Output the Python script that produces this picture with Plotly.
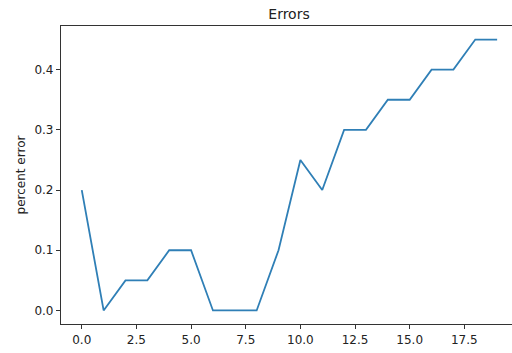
import plotly.graph_objects as go

# error rate per step
steps = list(range(20))
percent_error = [0.2, 0.0, 0.05, 0.05, 0.1, 0.1, 0.0, 0.0, 0.0, 0.1,
                 0.25, 0.2, 0.3, 0.3, 0.35, 0.35, 0.4, 0.4, 0.45, 0.45]
x_ticks = [0.0, 2.5, 5.0, 7.5, 10.0, 12.5, 15.0, 17.5]
y_ticks = [0.0, 0.1, 0.2, 0.3, 0.4]

FONT = "DejaVu Sans"

fig = go.Figure(
    go.Scatter(
        x=steps,
        y=percent_error,
        mode="lines",
        line=dict(color="#2f7fb6", width=1.8),
        hoverinfo="skip",
    )
)

fig.update_layout(
    width=512,
    height=353,
    margin=dict(l=61, r=0, t=26, b=29),
    paper_bgcolor="white",
    plot_bgcolor="white",
    showlegend=False,
    font=dict(family=FONT, size=12, color="#222222"),
    title=dict(
        text="Errors",
        x=(289 - 61) / 451,
        xref="paper",
        xanchor="center",
        y=1 - 14 / 353,
        yref="container",
        yanchor="middle",
        font=dict(family=FONT, size=14, color="#222222"),
    ),
)

fig.update_xaxes(
    range=[-0.95, 19.68],
    tickvals=x_ticks,
    ticktext=[f"{v:.1f}" for v in x_ticks],
    ticks="outside",
    ticklen=4,
    tickwidth=1,
    tickcolor="#333333",
    showgrid=False,
    zeroline=False,
    showline=True,
    linecolor="#333333",
    linewidth=1.2,
    mirror=True,
)

fig.update_yaxes(
    range=[-0.0225, 0.4725],
    tickvals=y_ticks,
    ticktext=[f"{v:.1f}" for v in y_ticks],
    ticks="outside",
    ticklen=4,
    tickwidth=1,
    tickcolor="#333333",
    showgrid=False,
    zeroline=False,
    showline=True,
    linecolor="#333333",
    linewidth=1.2,
    title=dict(text="percent error", standoff=6, font=dict(family=FONT, size=12)),
)

fig.write_html("out.html")
